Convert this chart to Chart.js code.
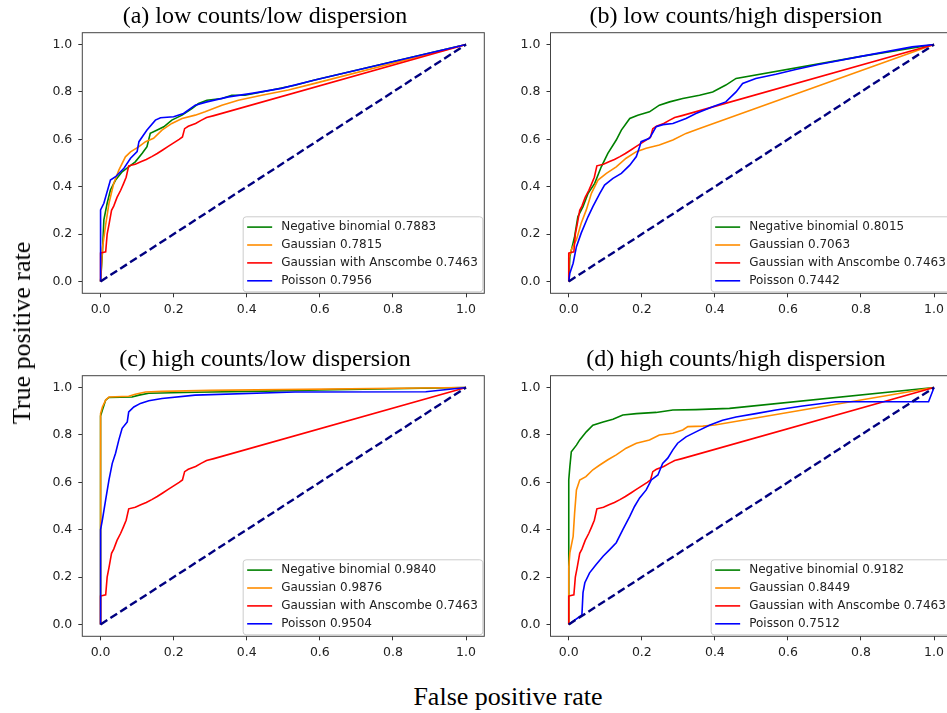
<!DOCTYPE html>
<html>
<head>
<meta charset="utf-8">
<script src="https://cdn.jsdelivr.net/npm/chart.js@4.4.1/dist/chart.umd.min.js"></script>
<style>
  html, body { margin: 0; padding: 0; background: #fff; overflow: hidden; }
  body { width: 947px; height: 713px; position: relative; }
  canvas { position: absolute; }
  #panelA { left: 30px; top: 0px; }
  #panelB { left: 498px; top: 0px; }
  #panelC { left: 30px; top: 343px; }
  #panelD { left: 498px; top: 343px; }
  .etiqueta { position: absolute; font-family: "Liberation Serif", "Times New Roman", serif; font-size: 26px; color: #000; white-space: nowrap; }
  #ylabel { left: 22px; top: 333px; transform: translate(-50%, -50%) rotate(-90deg); }
  #xlabel { left: 508px; top: 697px; transform: translate(-50%, -50%); }
</style>
</head>
<body>
<canvas id="panelA" width="455" height="324"></canvas>
<canvas id="panelB" width="455" height="324"></canvas>
<canvas id="panelC" width="455" height="324"></canvas>
<canvas id="panelD" width="455" height="324"></canvas>
<div class="etiqueta" id="ylabel">True positive rate</div>
<div class="etiqueta" id="xlabel">False positive rate</div>

<script>
// tick labels, same on both axes of every panel
const tickValues = [0, 0.2, 0.4, 0.6, 0.8, 1.0];

// chance line
const diagX = [0, 1];
const diagY = [0, 1];

// model names and colours (legend order)
const modelNames = ['Negative binomial', 'Gaussian', 'Gaussian with Anscombe', 'Poisson'];
const modelColors = ['#008000', '#ff8c00', '#ff0000', '#0000ff'];

// AUC per panel
const aucA = [0.7883, 0.7815, 0.7463, 0.7956];
const aucB = [0.8015, 0.7063, 0.7463, 0.7442];
const aucC = [0.9840, 0.9876, 0.7463, 0.9504];
const aucD = [0.9182, 0.8449, 0.7463, 0.7512];

// Gaussian with Anscombe: same curve in all four panels
const fprAnscombe = [0, 0, 0.014, 0.018, 0.023, 0.03, 0.036, 0.045, 0.055, 0.062, 0.07, 0.077, 0.095, 0.11, 0.125, 0.14, 0.155, 0.17, 0.185, 0.2, 0.215, 0.224, 0.23, 0.24, 0.26, 0.275, 0.29, 0.31, 1];
const tprAnscombe = [0, 0.12, 0.125, 0.2, 0.24, 0.3, 0.318, 0.355, 0.385, 0.41, 0.44, 0.488, 0.495, 0.505, 0.515, 0.527, 0.54, 0.555, 0.57, 0.585, 0.6, 0.61, 0.645, 0.655, 0.667, 0.68, 0.692, 0.7, 1];

// (a) low counts / low dispersion
const fprNbA = [0, 0.005, 0.009, 0.018, 0.027, 0.041, 0.059, 0.077, 0.095, 0.114, 0.127, 0.136, 0.155, 0.173, 0.195, 0.223, 0.25, 0.268, 0.291, 0.332, 0.359, 0.395, 0.441, 0.532, 0.586, 1];
const tprNbA = [0, 0.12, 0.26, 0.33, 0.386, 0.428, 0.463, 0.484, 0.505, 0.541, 0.569, 0.625, 0.639, 0.653, 0.681, 0.702, 0.73, 0.751, 0.765, 0.772, 0.786, 0.786, 0.8, 0.828, 0.85, 1];
const fprGaussA = [0, 0.005, 0.014, 0.023, 0.036, 0.05, 0.068, 0.082, 0.105, 0.123, 0.145, 0.168, 0.195, 0.223, 0.259, 0.286, 0.332, 0.377, 0.441, 0.514, 0.586, 1];
const tprGaussA = [0, 0.14, 0.24, 0.33, 0.414, 0.47, 0.526, 0.547, 0.569, 0.59, 0.604, 0.639, 0.667, 0.688, 0.702, 0.716, 0.744, 0.765, 0.786, 0.808, 0.836, 1];
const fprPoisA = [0, 0, 0.009, 0.027, 0.041, 0.064, 0.082, 0.1, 0.105, 0.127, 0.15, 0.164, 0.2, 0.227, 0.259, 0.291, 0.35, 0.414, 0.495, 0.586, 1];
const tprPoisA = [0, 0.302, 0.33, 0.428, 0.442, 0.478, 0.52, 0.548, 0.59, 0.639, 0.681, 0.691, 0.695, 0.709, 0.744, 0.758, 0.779, 0.794, 0.815, 0.85, 1];

// (b) low counts / high dispersion
const fprNbB = [0, 0.003, 0.016, 0.025, 0.039, 0.053, 0.071, 0.089, 0.107, 0.13, 0.144, 0.167, 0.189, 0.221, 0.248, 0.276, 0.312, 0.358, 0.394, 0.43, 0.458, 0.8, 0.9, 1];
const tprNbB = [0, 0.105, 0.19, 0.274, 0.316, 0.372, 0.414, 0.484, 0.541, 0.597, 0.639, 0.688, 0.702, 0.716, 0.744, 0.758, 0.772, 0.786, 0.8, 0.829, 0.857, 0.95, 0.975, 1];
const fprGaussB = [0, 0, 0.007, 0.021, 0.034, 0.048, 0.062, 0.08, 0.103, 0.13, 0.157, 0.185, 0.212, 0.248, 0.285, 0.321, 0.358, 1];
const tprGaussB = [0, 0.1, 0.134, 0.176, 0.246, 0.302, 0.372, 0.428, 0.456, 0.484, 0.52, 0.548, 0.562, 0.576, 0.597, 0.625, 0.646, 1];
const fprPoisB = [0, 0.003, 0.012, 0.021, 0.034, 0.053, 0.066, 0.085, 0.098, 0.121, 0.144, 0.167, 0.185, 0.194, 0.198, 0.221, 0.239, 0.258, 0.285, 0.321, 0.348, 0.394, 0.43, 0.458, 0.476, 0.512, 0.567, 0.621, 0.68, 0.8, 0.94, 1];
const tprPoisB = [0, 0.035, 0.077, 0.147, 0.204, 0.274, 0.316, 0.372, 0.407, 0.435, 0.456, 0.491, 0.527, 0.569, 0.59, 0.604, 0.653, 0.662, 0.667, 0.688, 0.709, 0.737, 0.758, 0.8, 0.836, 0.857, 0.875, 0.895, 0.915, 0.95, 0.99, 1];

// (c) high counts / low dispersion
const fprNbC = [0, 0, 0.005, 0.014, 0.023, 0.086, 0.105, 0.132, 0.259, 0.45, 0.6, 1];
const tprNbC = [0, 0.88, 0.905, 0.947, 0.958, 0.96, 0.968, 0.976, 0.98, 0.985, 0.99, 1];
const fprGaussC = [0, 0, 0.005, 0.014, 0.023, 0.077, 0.095, 0.123, 0.168, 0.3, 1];
const tprGaussC = [0, 0.89, 0.918, 0.947, 0.96, 0.963, 0.972, 0.981, 0.984, 0.988, 1];
const fprPoisC = [0, 0, 0.005, 0.014, 0.023, 0.032, 0.041, 0.05, 0.059, 0.073, 0.077, 0.091, 0.109, 0.132, 0.168, 0.259, 0.532, 0.89, 1];
const tprPoisC = [0, 0.4, 0.442, 0.527, 0.61, 0.68, 0.723, 0.779, 0.828, 0.855, 0.897, 0.918, 0.933, 0.944, 0.954, 0.968, 0.981, 0.982, 1];

// (d) high counts / high dispersion
const fprNbD = [0, 0, 0, 0.003, 0.007, 0.021, 0.03, 0.048, 0.066, 0.094, 0.121, 0.148, 0.185, 0.239, 0.285, 0.348, 0.44, 1];
const tprNbD = [0, 0.246, 0.61, 0.666, 0.729, 0.757, 0.779, 0.813, 0.841, 0.855, 0.866, 0.884, 0.89, 0.895, 0.905, 0.907, 0.912, 1];
const fprGaussD = [0, 0, 0.003, 0.012, 0.016, 0.021, 0.03, 0.047, 0.066, 0.085, 0.107, 0.13, 0.157, 0.185, 0.221, 0.248, 0.285, 0.312, 0.326, 0.367, 0.4, 1];
const tprGaussD = [0, 0.24, 0.302, 0.372, 0.47, 0.568, 0.61, 0.624, 0.653, 0.673, 0.695, 0.716, 0.744, 0.765, 0.779, 0.8, 0.807, 0.821, 0.835, 0.837, 0.842, 1];
const fprPoisD = [0, 0.036, 0.039, 0.044, 0.057, 0.075, 0.094, 0.112, 0.13, 0.148, 0.167, 0.18, 0.194, 0.212, 0.226, 0.244, 0.257, 0.271, 0.285, 0.298, 0.321, 0.348, 0.385, 0.421, 0.458, 0.512, 0.567, 0.64, 0.73, 0.985, 1];
const tprPoisD = [0, 0.04, 0.134, 0.176, 0.218, 0.253, 0.288, 0.316, 0.345, 0.4, 0.456, 0.498, 0.534, 0.568, 0.61, 0.631, 0.68, 0.702, 0.737, 0.765, 0.792, 0.813, 0.841, 0.862, 0.876, 0.89, 0.905, 0.922, 0.94, 0.94, 1];

const serif = '"Liberation Serif", "Times New Roman", serif';
const sans = '"DejaVu Sans", sans-serif';

// legend box in the lower right corner of the axes
const legendBox = {
    id: 'legendBox',
    afterDatasetsDraw(chart) {
        const { ctx, chartArea } = chart;
        const items = chart.data.datasets.filter(d => d.label);
        ctx.save();
        ctx.font = '12px ' + sans;
        const textW = Math.max(...items.map(d => ctx.measureText(d.label).width));
        const w = 38 + textW + 5;
        const h = 75;
        const x = chartArea.right - 1.5 - w;
        const y = chartArea.bottom - 1.5 - h;
        ctx.beginPath();
        ctx.roundRect(x, y, w, h, 3);
        ctx.fillStyle = 'rgba(255,255,255,0.8)';
        ctx.fill();
        ctx.strokeStyle = '#cccccc';
        ctx.lineWidth = 1;
        ctx.stroke();
        ctx.textBaseline = 'middle';
        items.forEach((d, i) => {
            const cy = y + 10.3 + i * 17.9;
            ctx.strokeStyle = d.borderColor;
            ctx.lineWidth = 1.6;
            ctx.beginPath();
            ctx.moveTo(x + 4, cy);
            ctx.lineTo(x + 29, cy);
            ctx.stroke();
            ctx.fillStyle = '#222';
            ctx.fillText(d.label, x + 38, cy);
        });
        ctx.restore();
    }
};

// box around the axes
const frame = {
    id: 'frame',
    afterDraw(chart) {
        const { ctx, chartArea } = chart;
        ctx.save();
        ctx.strokeStyle = '#444';
        ctx.lineWidth = 1;
        ctx.strokeRect(chartArea.left, chartArea.top, chartArea.right - chartArea.left, chartArea.bottom - chartArea.top);
        ctx.restore();
    }
};

function axisOptions(fitSize, isX) {
    return {
        type: 'linear',
        min: -0.05,
        max: 1.05,
        afterBuildTicks: s => { s.ticks = tickValues.map(v => ({ value: v })); },
        afterFit: s => { if (isX) s.height = fitSize; else s.width = fitSize; },
        ticks: {
            font: { family: sans, size: 12.5 },
            color: '#222',
            padding: isX ? 5 : 6,
            maxRotation: 0,
            autoSkip: false,
            callback: v => Number(v).toFixed(1)
        },
        grid: { display: true, drawOnChartArea: false, drawTicks: true, tickLength: 4, color: '#333', lineWidth: 1 },
        border: { display: false }
    };
}

// padLeft + yWidth puts the axes where they belong, and the title is
// centred over padLeft..right, like the captions of the original figure
function drawPanel(id, title, fprs, tprs, aucs, padLeft, yWidth) {
    const datasets = modelNames.map((name, i) => ({
        label: name + ' ' + aucs[i].toFixed(4),
        data: fprs[i].map((x, j) => ({ x: x, y: tprs[i][j] })),
        borderColor: modelColors[i],
        borderWidth: 1.6,
        showLine: true,
        pointRadius: 0,
        tension: 0,
        fill: false,
        order: 4 - i
    }));
    datasets.push({
        label: '',
        data: diagX.map((x, j) => ({ x: x, y: diagY[j] })),
        borderColor: '#000080',
        borderWidth: 2.4,
        borderDash: [8, 3.7],
        showLine: true,
        pointRadius: 0,
        order: 0
    });

    new Chart(document.getElementById(id), {
        type: 'scatter',
        data: { datasets: datasets },
        options: {
            responsive: false,
            animation: false,
            layout: { padding: { left: padLeft, right: 0.7, top: 0, bottom: 0 } },
            plugins: {
                legend: { display: false },
                tooltip: { enabled: false },
                title: {
                    display: true,
                    text: title,
                    color: '#000',
                    font: { family: serif, size: 24, weight: 'normal', lineHeight: 1.2 },
                    padding: { top: 2.6, bottom: 1.3 }
                }
            },
            scales: {
                x: axisOptions(30.7, true),
                y: axisOptions(yWidth, false)
            }
        },
        plugins: [legendBox, frame]
    });
}

drawPanel('panelA', '(a) low counts/low dispersion',
    [fprNbA, fprGaussA, fprAnscombe, fprPoisA], [tprNbA, tprGaussA, tprAnscombe, tprPoisA], aucA, 15.7, 36.6);
drawPanel('panelB', '(b) low counts/high dispersion',
    [fprNbB, fprGaussB, fprAnscombe, fprPoisB], [tprNbB, tprGaussB, tprAnscombe, tprPoisB], aucB, 21.5, 31);
drawPanel('panelC', '(c) high counts/low dispersion',
    [fprNbC, fprGaussC, fprAnscombe, fprPoisC], [tprNbC, tprGaussC, tprAnscombe, tprPoisC], aucC, 15.7, 36.6);
drawPanel('panelD', '(d) high counts/high dispersion',
    [fprNbD, fprGaussD, fprAnscombe, fprPoisD], [tprNbD, tprGaussD, tprAnscombe, tprPoisD], aucD, 21.5, 31);
</script>
</body>
</html>
